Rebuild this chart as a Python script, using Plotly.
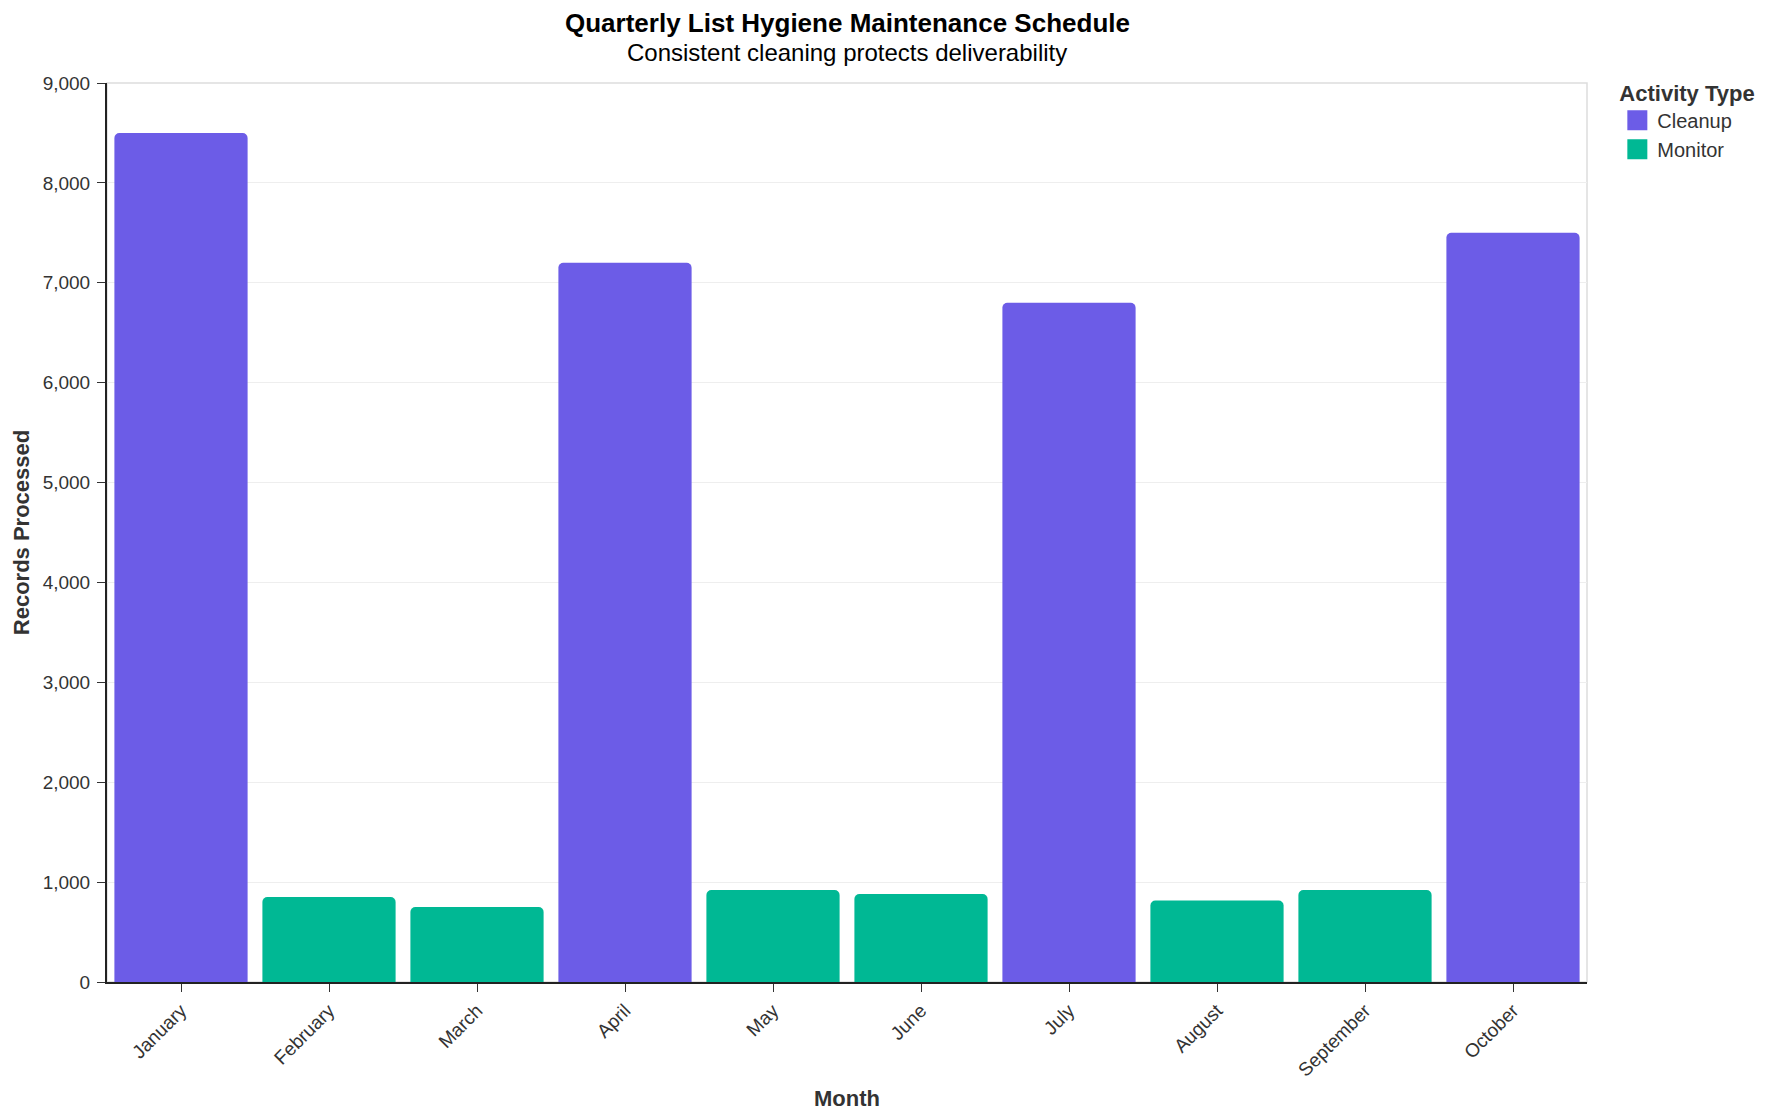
import plotly.graph_objects as go

months = ["January", "February", "March", "April", "May",
          "June", "July", "August", "September", "October"]

cleanup_months = ["January", "April", "July", "October"]
cleanup_records = [8500, 7200, 6800, 7500]

monitor_months = ["February", "March", "May", "June", "August", "September"]
monitor_records = [850, 750, 920, 880, 815, 920]

y_ticks = [0, 1000, 2000, 3000, 4000, 5000, 6000, 7000, 8000, 9000]

PURPLE = "#6C5CE7"
TEAL = "#00B894"
FONT = "Liberation Sans, Arial, sans-serif"

fig = go.Figure()
fig.add_bar(x=cleanup_months, y=cleanup_records, name="Cleanup", showlegend=False,
            marker=dict(color=PURPLE, line=dict(width=0)))
fig.add_bar(x=monitor_months, y=monitor_records, name="Monitor", showlegend=False,
            marker=dict(color=TEAL, line=dict(width=0)))

# legend swatches: bigger squares than the default bar symbol
for name, color in [("Cleanup", PURPLE), ("Monitor", TEAL)]:
    fig.add_scatter(x=[None], y=[None], mode="markers", name=name,
                    marker=dict(symbol="square", size=16, color=color,
                                line=dict(color=color, width=4)))

fig.update_layout(
    width=1768,
    height=1120,
    barmode="overlay",
    bargap=0.1,
    barcornerradius=5,
    plot_bgcolor="#FFF",
    paper_bgcolor="#FFF",
    margin=dict(l=99, r=189, t=75, b=146),
    font=dict(family=FONT, size=19, color="#333"),
    legend=dict(
        title=dict(text="<b>Activity Type</b>", font=dict(size=22, color="#333")),
        font=dict(size=20, color="#333"),
        x=1.0205, xanchor="left", y=1.012, yanchor="top",
        tracegroupgap=0,
    ),
    shapes=[dict(type="rect", xref="paper", yref="paper", x0=0, x1=1, y0=0, y1=1,
                 line=dict(color="#ddd", width=1.5), layer="below")],
    annotations=[
        dict(text="<b>Quarterly List Hygiene Maintenance Schedule</b>",
             xref="paper", yref="paper", x=0.5, y=1.067, xanchor="center", yanchor="middle",
             showarrow=False, font=dict(size=26, color="#000")),
        dict(text="Consistent cleaning protects deliverability",
             xref="paper", yref="paper", x=0.5, y=1.034, xanchor="center", yanchor="middle",
             showarrow=False, font=dict(size=24, color="#000")),
    ],
)

fig.update_xaxes(
    type="category",
    categoryorder="array",
    categoryarray=months,
    tickangle=-45,
    ticks="outside",
    ticklen=8,
    tickcolor="#333",
    showline=True,
    linecolor="#222",
    linewidth=2,
    showgrid=False,
    title=dict(text="<b>Month</b>", font=dict(size=22, color="#333"), standoff=11),
)
fig.update_yaxes(
    range=[0, 9000],
    tickvals=y_ticks,
    tickformat=",",
    ticks="outside",
    ticklen=8,
    tickcolor="#333",
    ticklabelstandoff=3,
    showline=True,
    linecolor="#222",
    linewidth=2,
    showgrid=True,
    gridcolor="#eeeeee",
    gridwidth=1,
    zeroline=False,
    title=dict(text="<b>Records Processed</b>", font=dict(size=22, color="#333"), standoff=7),
)

fig.write_html("out.html")
